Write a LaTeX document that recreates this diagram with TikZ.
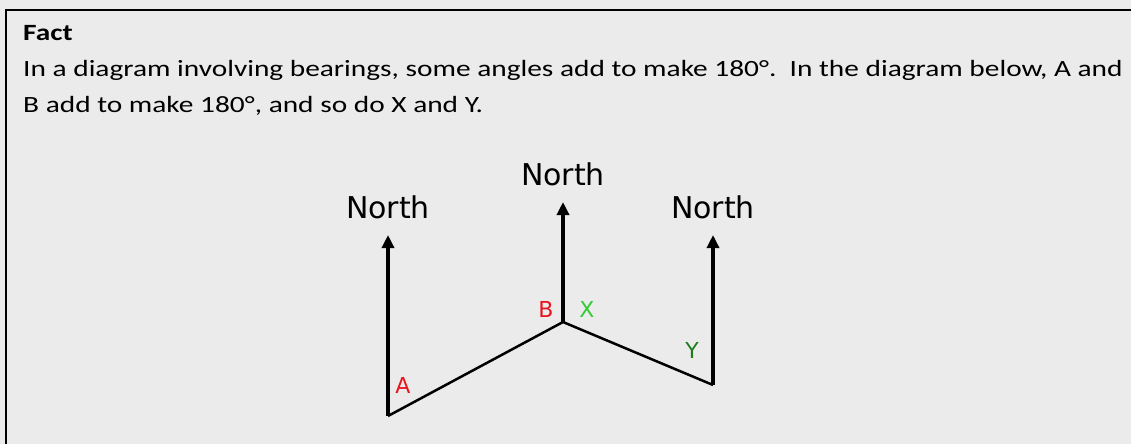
\documentclass[tikz,border=0pt]{standalone}
\usepackage{fontspec}
\setmainfont{Carlito}[FakeStretch=1.26]
\newfontfamily\sketchfont{DejaVu Sans}
\usetikzlibrary{positioning, arrows.meta}
\definecolor{factbg}{HTML}{EBEBEB}
\definecolor{angred}{HTML}{E8141E}
\definecolor{anggreen}{HTML}{33CC33}
\definecolor{angdkgreen}{HTML}{1E7D1E}

\begin{document}
\begin{tikzpicture}
		[x=1pt, y=-1pt,
		northarrow/.style={line width=4.5pt, -{Triangle[length=13pt, width=12pt]}},
		legline/.style={line width=2.5pt, line join=round},
		northlabel/.style={font=\sketchfont\fontsize{30}{30}\selectfont, inner sep=0pt},
		anglabel/.style={font=\sketchfont\fontsize{22}{22}\selectfont, inner sep=0pt, anchor=base},
		facttext/.style={font=\fontsize{23.3}{36}\selectfont, inner sep=0pt, anchor=base west}]
		\useasboundingbox (0,0) rectangle (1131,444);
		\fill[factbg] (0,0) rectangle (1131,444);
		\draw[line width=2pt] (5.5,444) -- (5.5,10) -- (1131,10);
		
		% text of the fact
		\node[facttext] (title) at (23,41) {\bfseries Fact};
		\node[facttext] (line1) at (23,77) {In a diagram involving bearings, some angles add to make 180°.\ \ In the diagram below, A and};
		\node[facttext] (line2) at (23,112) {B add to make 180°, and so do X and Y.};
		
		% points of the bearings
		\coordinate (baseA) at (388,416);
		\coordinate (baseB) at (563,322);
		\coordinate (baseY) at (713,385);
		\coordinate (tipA) at (388,235);
		\coordinate (tipB) at (563,202);
		\coordinate (tipY) at (713,235);
		
		\node[northlabel, above=16pt of tipA] (northA) {North};
		\node[northlabel, above=16pt of tipB] (northB) {North};
		\node[northlabel, above=16pt of tipY] (northY) {North};
		
		\draw[legline] (baseA) -- (baseB) -- (baseY);
		\draw[northarrow] (baseA) -- (tipA);
		\draw[northarrow] (baseB) -- (tipB);
		\draw[northarrow] (baseY) -- (tipY);
		
		\node[anglabel, text=angred] (angA) at (403,393) {A};
		\node[anglabel, text=angred] (angB) at (546,317) {B};
		\node[anglabel, text=anggreen] (angX) at (587,317) {X};
		\node[anglabel, text=angdkgreen] (angY) at (692,358) {Y};
	\end{tikzpicture}
\end{document}
